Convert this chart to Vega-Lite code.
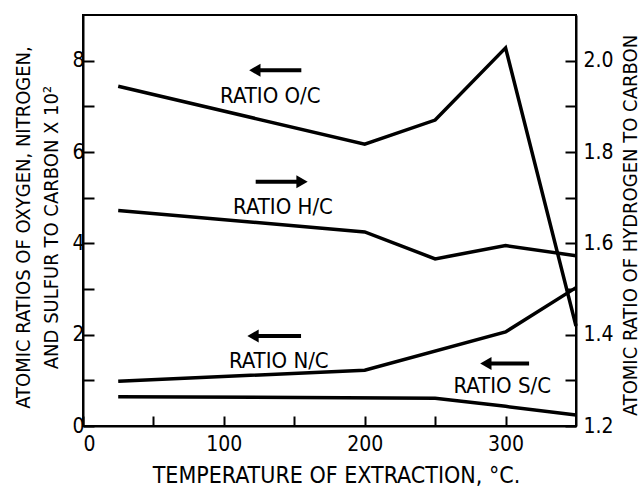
{
  "$schema": "https://vega.github.io/schema/vega-lite/v6.json",
  "width": 493,
  "height": 411,
  "autosize": {"type": "none"},
  "padding": {"left": 83, "top": 15, "right": 66, "bottom": 65},
  "background": "white",
  "config": {
    "view": {"stroke": "black", "strokeWidth": 2},
    "font": "DejaVu Sans Condensed, DejaVu Sans",
    "axis": {
      "grid": false,
      "domainColor": "black",
      "domainWidth": 2,
      "tickColor": "black",
      "tickWidth": 2,
      "labelColor": "black",
      "labelFontSize": 21,
      "labelFont": "DejaVu Sans Condensed, DejaVu Sans",
      "titleColor": "black",
      "titleFont": "DejaVu Sans Condensed, DejaVu Sans",
      "titleFontWeight": "normal",
      "titleFontSize": 20
    }
  },
  "datasets": {
    "left": [
      {"series": "O/C", "t": 25, "v": 7.44},
      {"series": "O/C", "t": 200, "v": 6.17},
      {"series": "O/C", "t": 250, "v": 6.70},
      {"series": "O/C", "t": 300, "v": 8.28},
      {"series": "O/C", "t": 350, "v": 2.19},
      {"series": "N/C", "t": 25, "v": 0.98},
      {"series": "N/C", "t": 200, "v": 1.22},
      {"series": "N/C", "t": 300, "v": 2.06},
      {"series": "N/C", "t": 350, "v": 3.03},
      {"series": "S/C", "t": 25, "v": 0.64},
      {"series": "S/C", "t": 250, "v": 0.61},
      {"series": "S/C", "t": 300, "v": 0.43},
      {"series": "S/C", "t": 350, "v": 0.24}
    ],
    "hc": [
      {"series": "H/C", "t": 25, "v": 1.672},
      {"series": "H/C", "t": 200, "v": 1.625},
      {"series": "H/C", "t": 250, "v": 1.566},
      {"series": "H/C", "t": 300, "v": 1.595},
      {"series": "H/C", "t": 350, "v": 1.573}
    ],
    "labels": [
      {"label": "RATIO  O/C", "t": 133, "v": 7.22},
      {"label": "RATIO  H/C", "t": 142, "v": 4.80},
      {"label": "RATIO  N/C", "t": 139, "v": 1.42},
      {"label": "RATIO  S/C", "t": 297.6, "v": 0.87}
    ],
    "arrows": [
      {"name": "O/C", "tail": 155, "head": 122, "v": 7.79, "dir": "left"},
      {"name": "H/C", "tail": 122.6, "head": 155.5, "v": 5.35, "dir": "right"},
      {"name": "N/C", "tail": 154.8, "head": 120.7, "v": 1.97, "dir": "left"},
      {"name": "S/C", "tail": 316.7, "head": 286, "v": 1.37, "dir": "left"}
    ]
  },
  "layer": [
    {
      "layer": [
        {
          "data": {"name": "left"},
          "mark": {"type": "line", "color": "black", "strokeWidth": 3.5},
          "encoding": {
            "x": {
              "field": "t", "type": "quantitative",
              "scale": {"domain": [0, 350], "nice": false, "zero": false},
              "axis": {
                "values": [0, 50, 100, 150, 200, 250, 300],
                "labelExpr": "datum.value % 100 == 0 ? datum.label : ''",
                "tickSize": -10,
                "labelPadding": 17,
                "title": "TEMPERATURE OF EXTRACTION, °C.",
                "titleFontSize": 23,
                "titleX": 253,
                "titleY": 56,
                "titleAlign": "center",
                "titleBaseline": "alphabetic"
              }
            },
            "y": {
              "field": "v", "type": "quantitative",
              "scale": {"domain": [0, 9], "nice": false, "zero": false},
              "axis": {
                "orient": "left",
                "values": [0, 1, 2, 3, 4, 5, 6, 7, 8],
                "labelExpr": "datum.value % 2 == 0 ? datum.label : ''",
                "tickSize": -11,
                "labelPadding": 10,
                "title": ["ATOMIC RATIOS OF OXYGEN, NITROGEN,", "AND SULFUR TO CARBON  X 10²"],
                "titleLineHeight": 28,
                "titleAngle": -90,
                "titleX": -54,
                "titleY": 212,
                "titleAlign": "center",
                "titleBaseline": "alphabetic"
              }
            },
            "detail": {"field": "series"}
          }
        },
        {
          "data": {"name": "labels"},
          "mark": {"type": "text", "color": "black", "fontSize": 22, "align": "center", "baseline": "middle", "font": "DejaVu Sans Condensed, DejaVu Sans"},
          "encoding": {
            "x": {"field": "t", "type": "quantitative"},
            "y": {"field": "v", "type": "quantitative"},
            "text": {"field": "label"}
          }
        },
        {
          "data": {"name": "arrows"},
          "mark": {"type": "rule", "color": "black", "strokeWidth": 4},
          "encoding": {
            "x": {"field": "tail", "type": "quantitative"},
            "x2": {"field": "head"},
            "y": {"field": "v", "type": "quantitative"}
          }
        },
        {
          "data": {"name": "arrows"},
          "mark": {"type": "point", "filled": true, "color": "black", "opacity": 1, "size": 170},
          "encoding": {
            "x": {"field": "head", "type": "quantitative"},
            "y": {"field": "v", "type": "quantitative"},
            "shape": {
              "field": "dir", "type": "nominal",
              "scale": {"domain": ["left", "right"], "range": ["triangle-left", "triangle-right"]},
              "legend": null
            }
          }
        }
      ]
    },
    {
      "data": {"name": "hc"},
      "mark": {"type": "line", "color": "black", "strokeWidth": 3.5},
      "encoding": {
        "x": {"field": "t", "type": "quantitative"},
        "y": {
          "field": "v", "type": "quantitative",
          "scale": {"domain": [1.2, 2.1], "nice": false, "zero": false},
          "axis": {
            "orient": "right",
            "values": [1.2, 1.3, 1.4, 1.5, 1.6, 1.7, 1.8, 1.9, 2.0],
            "labelExpr": "round(datum.value * 10) % 2 == 0 ? format(datum.value, '.1f') : ''",
            "tickSize": -11,
            "labelPadding": 18,
            "title": "ATOMIC RATIO OF HYDROGEN TO CARBON",
            "titleAngle": -90,
            "titleX": 60,
            "titleY": 210,
            "titleAlign": "center",
            "titleBaseline": "alphabetic"
          }
        }
      }
    }
  ],
  "resolve": {"scale": {"y": "independent"}}
}
